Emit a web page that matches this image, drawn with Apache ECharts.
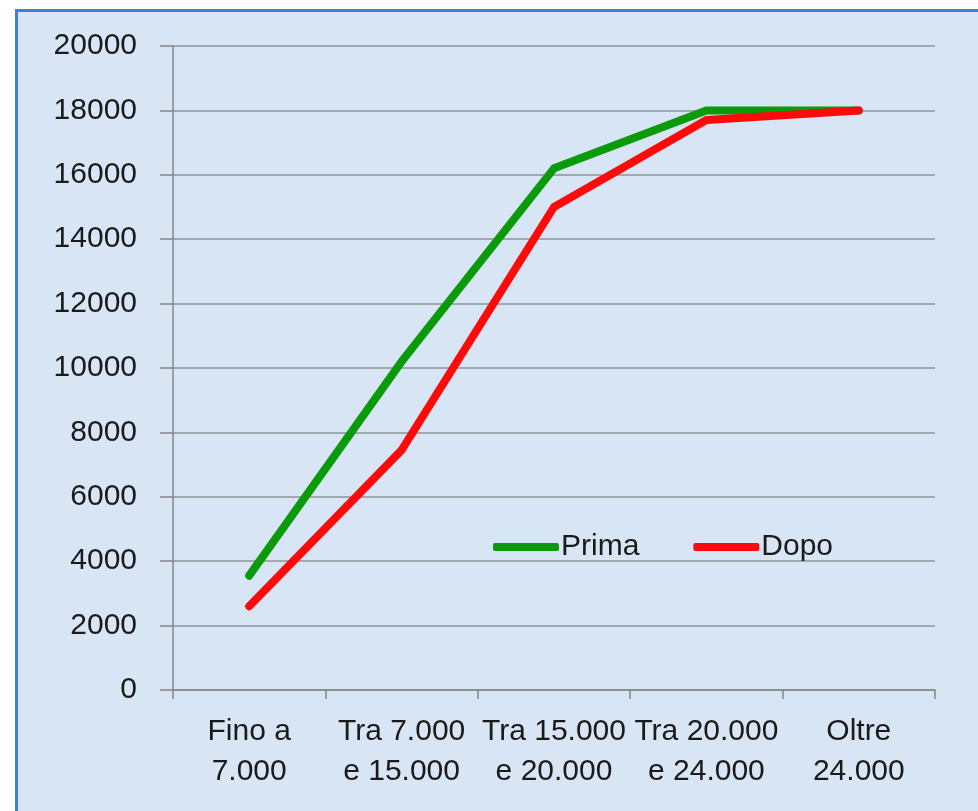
<!DOCTYPE html>
<html>
<head>
<meta charset="utf-8">
<script src="https://cdn.jsdelivr.net/npm/echarts@6/dist/echarts.min.js"></script>
<style>
html,body{margin:0;padding:0;background:#ffffff;width:978px;height:811px;overflow:hidden;}
#panel{position:absolute;left:15px;top:9px;width:1000px;height:900px;box-sizing:border-box;border:3px solid #3d7fd9;background:#d7e5f5;}
#chart{position:absolute;left:0;top:0;width:978px;height:811px;}
</style>
</head>
<body>
<div id="panel"></div>
<div id="chart"></div>
<script>
const categories = ['Fino a\n7.000', 'Tra 7.000\ne 15.000', 'Tra 15.000\ne 20.000', 'Tra 20.000\ne 24.000', 'Oltre\n24.000'];
const prima = [3550, 10200, 16200, 18000, 18000];
const dopo = [2600, 7450, 15000, 17700, 18000];
const yTicks = {min: 0, max: 20000, interval: 2000};

const FONT = "'Liberation Sans Narrow', 'Arial Narrow', 'Liberation Sans', Arial, sans-serif";
const chart = echarts.init(document.getElementById('chart'), null, {renderer: 'canvas'});
chart.setOption({
  backgroundColor: 'transparent',
  animation: false,
  grid: {left: 173, right: 43, top: 46, bottom: 121, containLabel: false},
  legend: {
    left: 488, top: 527,
    itemWidth: 66, itemHeight: 8, itemGap: 54,
    textStyle: {fontFamily: FONT, fontSize: 30, color: '#1a1a1a', padding: [0,0,0,-3]},
    data: [{name: 'Prima', icon: 'roundRect'}, {name: 'Dopo', icon: 'roundRect'}]
  },
  xAxis: {
    type: 'category',
    data: categories,
    boundaryGap: true,
    axisLine: {lineStyle: {color: '#868686', width: 1.5}},
    axisTick: {show: true, length: 9, lineStyle: {color: '#868686', width: 1.5}},
    axisLabel: {fontFamily: FONT, fontSize: 30, color: '#1a1a1a', lineHeight: 40, margin: 22, interval: 0}
  },
  yAxis: {
    type: 'value',
    min: yTicks.min, max: yTicks.max, interval: yTicks.interval,
    axisLine: {show: true, lineStyle: {color: '#868686', width: 1.5}},
    axisTick: {show: true, length: 13, lineStyle: {color: '#868686', width: 1.5}},
    axisLabel: {fontFamily: FONT, fontSize: 30, color: '#1a1a1a', margin: 36, formatter: v => String(v)},
    splitLine: {show: true, lineStyle: {color: '#8f9399', width: 1.5}}
  },
  series: [
    {name: 'Prima', type: 'line', data: prima, symbol: 'none', color: '#0a9a0a',
     lineStyle: {width: 8, color: '#0a9a0a', cap: 'round', join: 'round'}},
    {name: 'Dopo', type: 'line', data: dopo, symbol: 'none', color: '#ff0a0a',
     lineStyle: {width: 8, color: '#ff0a0a', cap: 'round', join: 'round'}}
  ]
});
</script>
</body>
</html>
